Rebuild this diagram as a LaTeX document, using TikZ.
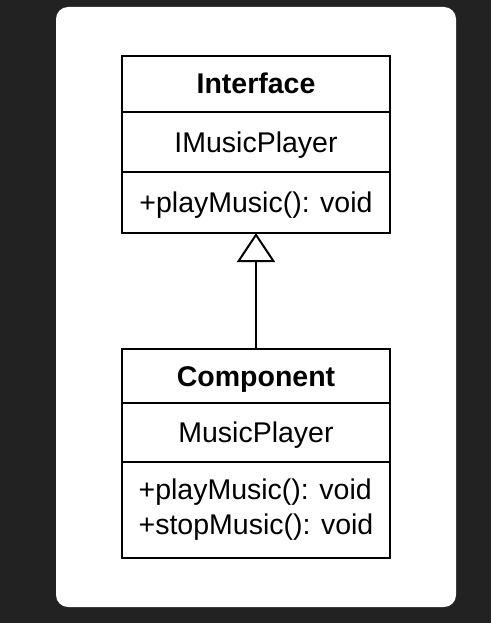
\documentclass[tikz,border=0pt]{standalone}
\usepackage{fontspec}
\setmainfont{Liberation Sans}
\usetikzlibrary{arrows.meta, positioning}
\definecolor{fundo}{RGB}{34,34,34}

\begin{document}
\begin{tikzpicture}[x=1pt, y=-1pt]
        % Variáveis base
        \def\W{268}  % Largura das caixas
        \tikzset{
            caixa/.style={draw, line width=2pt, minimum width=\W pt, outer sep=0pt, inner sep=0pt,
                text height=20pt, text depth=0pt, font=\fontsize{28.5}{35}\selectfont},
            titulo/.style={caixa, font=\fontsize{28.5}{35}\selectfont\bfseries}
        }

        % Fundo escuro e cartão branco
        \fill[fundo] (0,0) rectangle (491,623);
        \fill[white, rounded corners=12pt] (56,7) rectangle (456,607);
        \useasboundingbox (0,0) rectangle (491,623);

        % Classe da interface
        \node[titulo, minimum height=56pt] (ihead) at (256,84) {Interface};
        \node[caixa, minimum height=60pt, below=0pt of ihead] (iname) {IMusicPlayer};
        \node[caixa, minimum height=61pt, below=0pt of iname] (imeth) {+playMusic(): void};

        % Classe do componente
        \node[titulo, minimum height=54pt] (chead) at (256,376) {Component};
        \node[caixa, minimum height=59pt, below=0pt of chead] (cname) {MusicPlayer};
        \node[caixa, minimum height=96pt, text height=55pt, text depth=7pt, align=left, below=0pt of cname] (cmeth)
            {+playMusic(): void\\+stopMusic(): void};

        % Realização (seta de herança)
        \draw[line width=2pt, -{Triangle[open, length=29pt, width=38pt]}] (chead.north) -- (imeth.south);

    \end{tikzpicture}
\end{document}
